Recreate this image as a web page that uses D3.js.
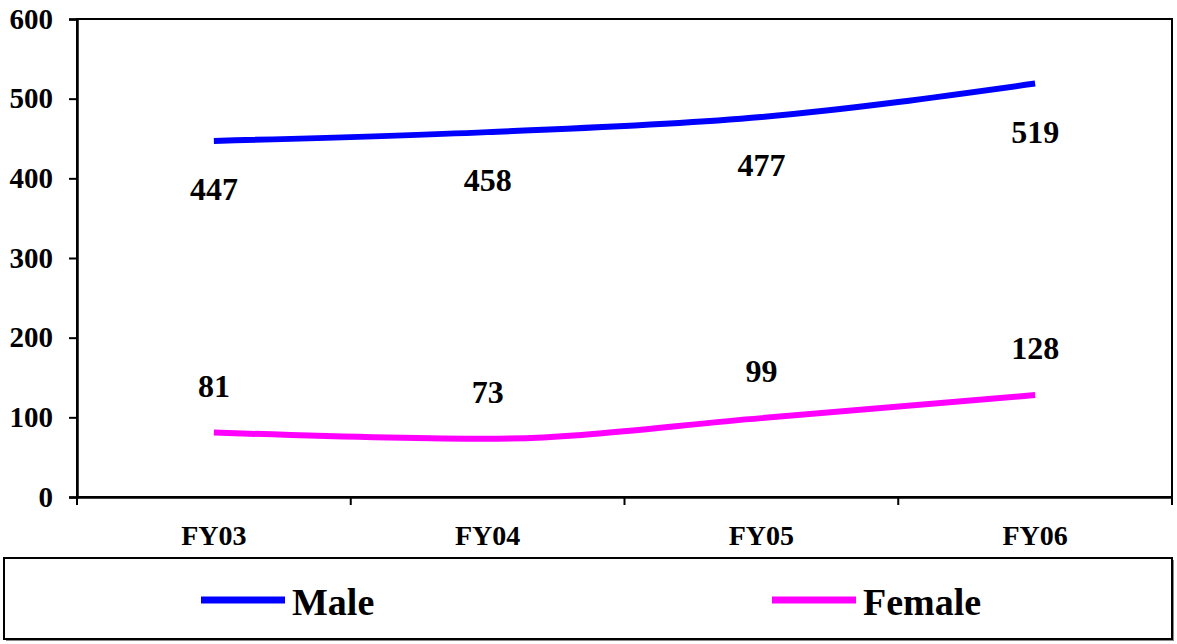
<!DOCTYPE html>
<html lang="en">
<head>
<meta charset="UTF-8">
<title>Male / Female</title>
<style>
  body { margin: 0; background: #fff; }
  text { font-family: "Liberation Serif", "Times New Roman", serif; font-weight: bold; }
</style>
</head>
<body>
<svg id="chart" width="1177" height="644"></svg>
<script src="https://cdn.jsdelivr.net/npm/d3@7/dist/d3.min.js"></script>
<script>
var years = ["FY03", "FY04", "FY05", "FY06"];
var male = [447, 458, 477, 519];
var female = [81, 73, 99, 128];
var yTicks = [0, 100, 200, 300, 400, 500, 600];

var svg = d3.select("#chart");
var plotL = 77, plotR = 1172, plotT = 19, plotB = 497;

var x = d3.scaleBand().domain(years).range([plotL, plotR]);
var y = d3.scaleLinear().domain([0, 600]).range([plotB, plotT]);

// plot frame
svg.append("rect")
  .attr("x", plotL).attr("y", plotT)
  .attr("width", plotR - plotL).attr("height", plotB - plotT)
  .attr("fill", "none").attr("stroke", "#000").attr("stroke-width", 2);

// y axis
var yAxis = svg.append("g")
  .attr("transform", "translate(" + plotL + ",0)")
  .call(d3.axisLeft(y).tickValues(yTicks).tickSize(8).tickPadding(16));
yAxis.select(".domain").attr("stroke-width", 2.5);
yAxis.selectAll(".tick line").attr("stroke-width", 2);
yAxis.selectAll(".tick text").attr("font-size", 29).attr("fill", "#000");

// x axis, ticks on category boundaries
var xAxis = svg.append("g")
  .attr("transform", "translate(0," + plotB + ")")
  .call(d3.axisBottom(x).tickSize(0).tickPadding(28));
xAxis.select(".domain").attr("stroke-width", 2.5);
xAxis.selectAll(".tick text").attr("font-size", 28).attr("fill", "#000");
var bounds = years.map(function(d) { return x(d); }).concat([plotR]);
svg.append("g").selectAll("line").data(bounds).join("line")
  .attr("x1", function(d) { return d; }).attr("x2", function(d) { return d; })
  .attr("y1", plotB).attr("y2", plotB + 8)
  .attr("stroke", "#000").attr("stroke-width", 2);

var cx = function(d, i) { return x(years[i]) + x.bandwidth() / 2; };
var line = d3.line()
  .x(function(d, i) { return cx(d, i); })
  .y(function(d) { return y(d); })
  .curve(d3.curveMonotoneX);

var series = [
  { name: "Male", values: male, color: "#0000ff", dy: 48 },
  { name: "Female", values: female, color: "#ff00ff", dy: -47 }
];

series.forEach(function(s) {
  svg.append("path")
    .datum(s.values)
    .attr("d", line)
    .attr("fill", "none")
    .attr("stroke", s.color)
    .attr("stroke-width", 6);
  svg.append("g").selectAll("text").data(s.values).join("text")
    .attr("x", cx)
    .attr("y", function(d) { return y(d) + s.dy; })
    .attr("dy", "0.35em")
    .attr("text-anchor", "middle")
    .attr("font-size", 32)
    .attr("fill", "#000")
    .text(function(d) { return d; });
});

// legend
svg.append("rect")
  .attr("x", 6).attr("y", 560).attr("width", 1168).attr("height", 81)
  .attr("fill", "#888");
svg.append("rect")
  .attr("x", 4).attr("y", 558).attr("width", 1168).attr("height", 81)
  .attr("fill", "#fff").attr("stroke", "#000").attr("stroke-width", 2);

var legendX = [201, 772];
series.forEach(function(s, i) {
  svg.append("line")
    .attr("x1", legendX[i]).attr("x2", legendX[i] + 84)
    .attr("y1", 600).attr("y2", 600)
    .attr("stroke", s.color).attr("stroke-width", 7);
  svg.append("text")
    .attr("x", legendX[i] + 91).attr("y", 602)
    .attr("dy", "0.35em")
    .attr("font-size", 38)
    .attr("fill", "#000")
    .text(s.name);
});
</script>
</body>
</html>
